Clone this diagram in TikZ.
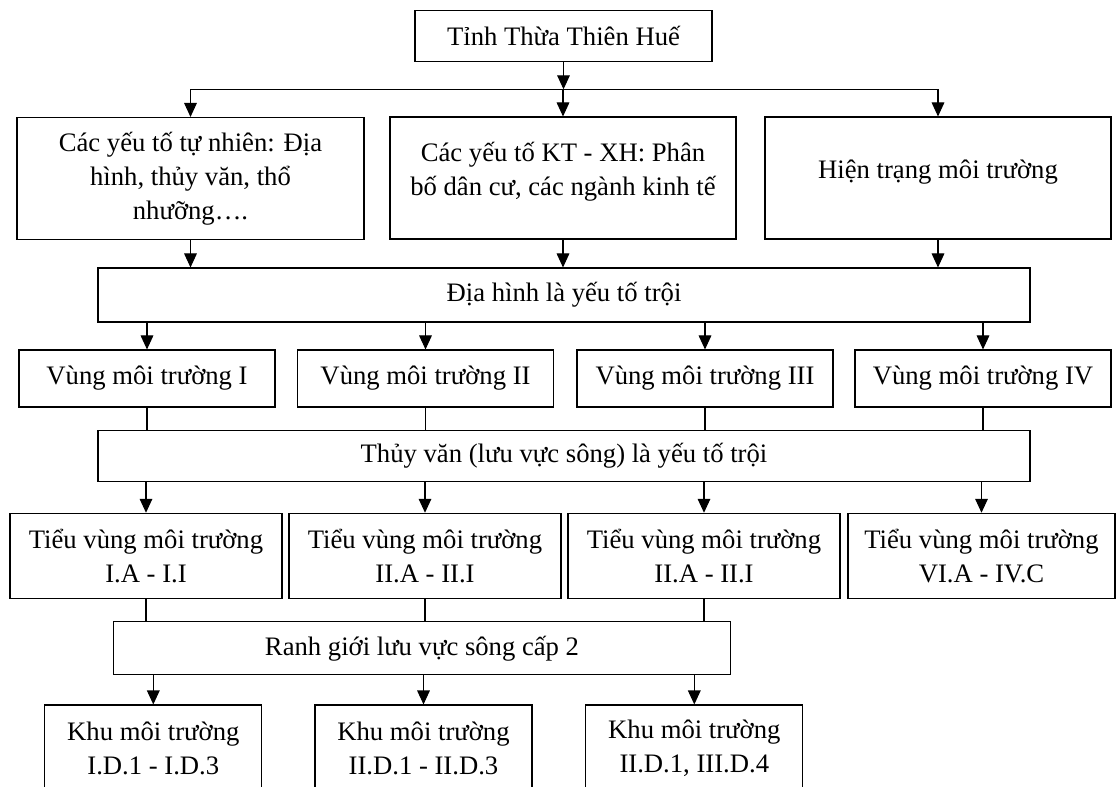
\documentclass[tikz,border=0pt]{standalone}
\usepackage{fontspec}
\setmainfont{Liberation Serif}
\usetikzlibrary{arrows.meta}
\tikzset{
  hop/.style={draw,inner sep=0pt,align=center,font=\fontsize{20}{25.5}\selectfont},
  sz/.style 2 args={minimum width=#1*0.75pt,minimum height=#2*0.75pt},
  arr/.style={-{Triangle[length=10.5pt,width=9.5pt]}},
}
\begin{document}
\begin{tikzpicture}[x=0.75pt,y=-0.75pt,line width=0.8pt]
  \useasboundingbox (0,0) rectangle (1117,787);
  \clip (0,0) rectangle (1117,787);
  % so do phan vung moi truong
  \node[hop,sz={297}{51}] (tinh) at (563.5,36.2) {Tỉnh Thừa Thiên Huế};
  \node[hop,sz={347}{122}] (tn) at (190.5,178.5) {Các yếu tố tự nhiên: Địa\\hình, thủy văn, thổ\\nhưỡng….};
  \node[hop,sz={346}{122}] (kt) at (563,178) {Các yếu tố KT - XH: Phân\\bố dân cư, các ngành kinh tế\\[-12pt]\mbox{}};
  \node[hop,sz={346}{122}] (ht) at (938,178) {Hiện trạng môi trường\\[-12pt]\mbox{}};
  \node[hop,sz={932}{54}] (dh) at (564,295) {Địa hình là yếu tố trội};
  \node[hop,sz={932}{51}] (tv) at (564,456.2) {Thủy văn (lưu vực sông) là yếu tố trội};
  \node[hop,sz={617}{53}] (rg) at (422,648.3) {Ranh giới lưu vực sông cấp 2};
  \foreach \i/\x/\t in {1/147/I,2/425.5/II,3/705/III,4/983/IV}
    \node[hop,sz={256}{57}] (v\i) at (\x,378.5) {Vùng môi trường \t};
  \foreach \i/\x/\w/\t in {1/146/272/I.A - I.I,2/425/272/II.A - II.I,3/704/272/II.A - II.I,4/981.5/267/VI.A - IV.C}
    \node[hop,sz={\w}{85}] (s\i) at (\x,555.8) {Tiểu vùng môi trường\\\t};
  \foreach \i/\x/\t in {1/153.3/I.D.1 - I.D.3,2/423.5/II.D.1 - II.D.3,3/694.3/{II.D.1, III.D.4}}
    \node[hop,sz={217}{86}] (k\i) at (\x,748) {Khu môi trường\\\t};

  \coordinate (bus) at (0,89.3);
  \draw[arr] (tinh) -- (tinh |- bus);
  \draw (tn |- bus) -- (ht |- bus);
  \foreach \n in {tn,kt,ht}{
    \draw[arr] (\n |- bus) -- (\n);
    \draw[arr] (\n) -- (\n |- dh.north);
  }
  \foreach \i in {1,...,4}{
    \draw[arr] (v\i |- dh.south) -- (v\i);
    \draw (v\i) -- (v\i |- tv.north);
    \draw[arr] (s\i |- tv.south) -- (s\i);
  }
  \foreach \i in {1,2,3}{
    \draw (s\i) -- (s\i |- rg.north);
    \draw[arr] (k\i |- rg.south) -- (k\i);
  }
\end{tikzpicture}
\end{document}
